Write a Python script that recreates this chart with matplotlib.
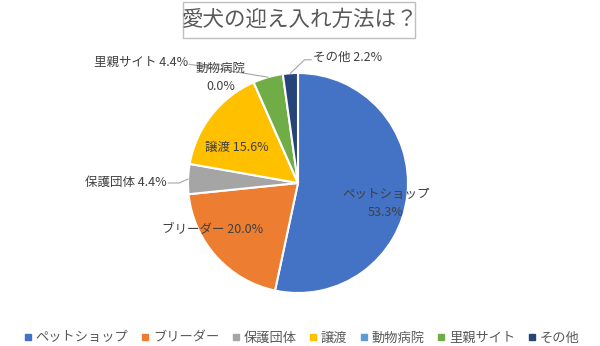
import matplotlib
matplotlib.use("Agg")
import matplotlib.pyplot as plt
from matplotlib.lines import Line2D
from matplotlib.patches import Rectangle
import numpy as np

plt.rcParams['font.family'] = ['Noto Sans CJK JP', 'DejaVu Sans']

title = "愛犬の迎え入れ方法は？"
categories = ["ペットショップ", "ブリーダー", "保護団体", "譲渡", "動物病院", "里親サイト", "その他"]
values = [53.3, 20.0, 4.4, 15.6, 0.0, 4.4, 2.2]
colors = ["#4472C4", "#ED7D31", "#A5A5A5", "#FFC000", "#5B9BD5", "#70AD47", "#264478"]

W, H = 600, 346
cx, cy, R = 298, 183, 110

fig = plt.figure(figsize=(W / 100, H / 100), dpi=100)
ax = fig.add_axes([0, 0, 1, 1])
wedges, _ = ax.pie(values, colors=colors, startangle=90, counterclock=False,
                   wedgeprops=dict(edgecolor="white", linewidth=1.5))
ax.set_xlim(-cx / R, (W - cx) / R)
ax.set_ylim(-(H - cy) / R, cy / R)
ax.axis("off")

txtc = "#404040"
fs = 9

def mid(i):
    w = wedges[i]
    a = np.deg2rad((w.theta1 + w.theta2) / 2)
    return np.cos(a), np.sin(a)

# label text positions (data units relative to pie radius)
ax.text(0.80, -0.19, f"{categories[0]}\n{values[0]:.1f}%", ha="center", va="center",
        fontsize=fs, color=txtc, linespacing=1.5)
ax.text(-0.78, -0.42, f"{categories[1]} {values[1]:.1f}%", ha="center", va="center",
        fontsize=fs, color=txtc)
ax.text(-1.19, 0.01, f"{categories[2]} {values[2]:.1f}%", ha="right", va="center",
        fontsize=fs, color=txtc)
ax.text(-0.56, 0.32, f"{categories[3]} {values[3]:.1f}%", ha="center", va="center",
        fontsize=fs, color=txtc)
ax.text(-0.70, 0.96, f"{categories[4]}\n{values[4]:.1f}%", ha="center", va="center",
        fontsize=fs, color=txtc, linespacing=1.5)
ax.text(-1.00, 1.10, f"{categories[5]} {values[5]:.1f}%", ha="right", va="center",
        fontsize=fs, color=txtc)
ax.text(0.14, 1.14, f"{categories[6]} {values[6]:.1f}%", ha="left", va="center",
        fontsize=fs, color=txtc)

lc = "#A6A6A6"
# leader lines
x, y = mid(2)
ax.plot([-1.18, -1.08, x], [0.0, 0.0, y], color=lc, lw=0.8)
x, y = mid(5)
ax.plot([-0.99, x], [1.08, y], color=lc, lw=0.8)
x, y = mid(6)
ax.plot([x, 0.06, 0.12], [y, 1.12, 1.12], color=lc, lw=0.8)

# title with box
fig.text(0.5, 1 - 20 / H, title, ha="center", va="center", fontsize=15.5, color="#595959")
fig.patches.append(Rectangle((183 / W, 1 - 38 / H), 232 / W, 36 / H, transform=fig.transFigure,
                             fill=False, edgecolor="#BFBFBF", lw=1))

handles = [Line2D([], [], marker="s", ls="", color=c, markersize=4) for c in colors]
fig.legend(handles, categories, loc="center", bbox_to_anchor=(302 / W, 1 - 338 / H), ncol=7,
           frameon=False, fontsize=9.5, handlelength=0.5, handletextpad=0.35,
           columnspacing=1.0, labelcolor="#595959", borderpad=0, borderaxespad=0)

fig.savefig("out.png", dpi=100)
